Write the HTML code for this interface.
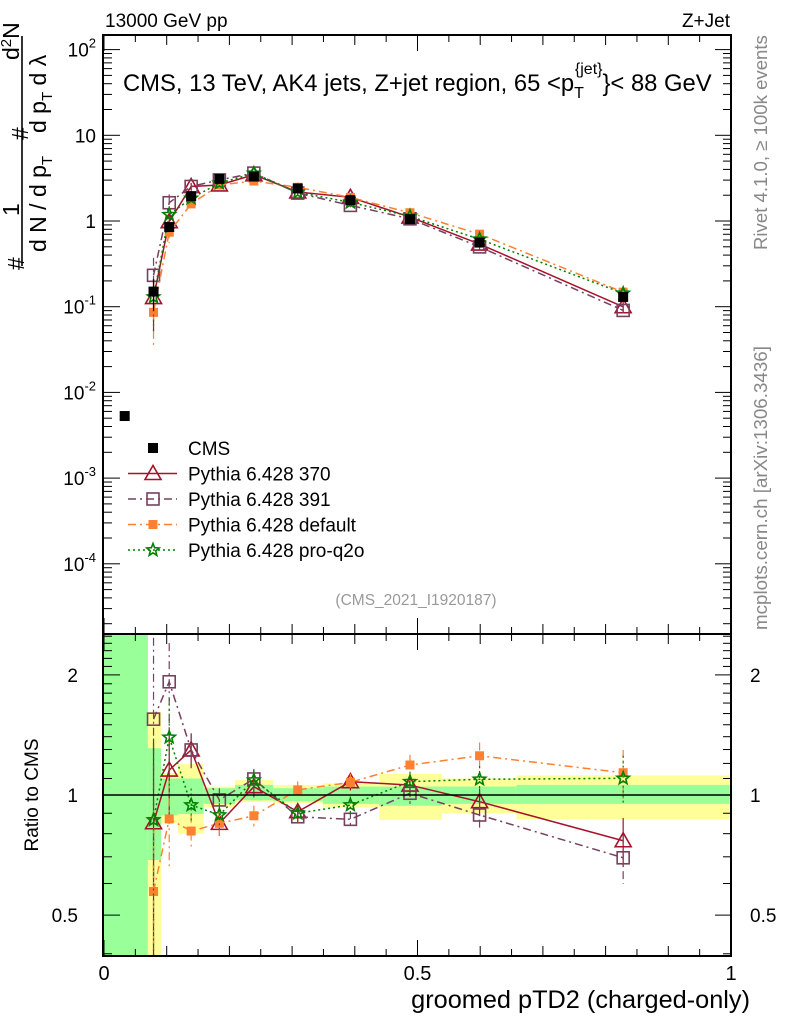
<!DOCTYPE html>
<html><head><meta charset="utf-8">
<style>
html,body{margin:0;padding:0;background:#fff;}
svg{display:block;font-family:"Liberation Sans",sans-serif;}
</style></head>
<body>
<svg id="chart" width="786" height="1024" viewBox="0 0 786 1024" xmlns="http://www.w3.org/2000/svg">
<g id="bands"></g>
<g id="marks"></g>
<g id="axes"></g>
<text x="105" y="27" font-size="19">13000 GeV pp</text>
<text x="730" y="27" font-size="19" text-anchor="end">Z+Jet</text>
<text x="123" y="91" font-size="23.8">CMS, 13 TeV, AK4 jets, Z+jet region, 65 &lt;p<tspan font-size="16" dy="7">T</tspan><tspan font-size="16" dx="-9" dy="-24">{jet}</tspan><tspan dy="17">}&lt; 88 GeV</tspan></text>
<text transform="translate(767,250) rotate(-90)" font-size="18.6" fill="#888">Rivet 4.1.0, ≥ 100k events</text>
<text transform="translate(767,630) rotate(-90)" font-size="18.8" fill="#888">mcplots.cern.ch [arXiv:1306.3436]</text>
<text x="416" y="605" font-size="15.5" fill="#999" text-anchor="middle">(CMS_2021_I1920187)</text>
<text transform="translate(38,795) rotate(-90)" font-size="19" text-anchor="middle">Ratio to CMS</text>
<text x="750" y="1008" font-size="25.3" text-anchor="end">groomed pTD2 (charged-only)</text>
<g font-size="23">
 <text transform="translate(24,270) rotate(-90)">#</text>
 <text transform="translate(19,216) rotate(-90)">1</text>
 <text transform="translate(46,252) rotate(-90)">d N / d p<tspan font-size="15" dy="6">T</tspan></text>
 <text transform="translate(28,140) rotate(-90)">#</text>
 <text transform="translate(19,60) rotate(-90)">d<tspan font-size="15" dy="-8">2</tspan><tspan dy="8">N</tspan></text>
 <text transform="translate(46,133) rotate(-90)">d p<tspan font-size="15" dy="6">T</tspan><tspan dy="-6"> d λ</tspan></text>
 <line x1="22" y1="36" x2="22" y2="266" stroke="#000" stroke-width="1.6"/>
</g>
<g id="legend"></g>
</svg>
<script>
const binX = [0.079,0.104,0.139,0.184,0.239,0.309,0.393,0.488,0.599,0.828];
const cmsVals = [0.15,0.85,1.95,3.1,3.3,2.4,1.75,1.05,0.56,0.13];
const cmsErr = [0.06,0.1,0.15,0.15,0.15,0.1,0.07,0.05,0.04,0.015];
const cmsExtraX = [0.033];
const cmsExtraVal = [0.0053];
const ratio370 = [0.852,1.155,1.297,0.849,1.049,0.908,1.08,1.059,0.962,0.768];
const ratio391 = [1.549,1.922,1.297,0.972,1.097,0.882,0.869,1.01,0.891,0.696];
const ratioDef = [0.573,0.871,0.812,0.849,0.887,1.03,1.076,1.189,1.254,1.137];
const ratioQ2o = [0.866,1.395,0.944,0.891,1.09,0.90,0.944,1.08,1.095,1.101];
const mcRelErr = [0.6,0.25,0.1,0.07,0.06,0.05,0.05,0.06,0.08,0.14];
const bandEdges = [0,0.070,0.091,0.118,0.159,0.209,0.270,0.349,0.439,0.539,0.658,0.998];
const yellowHi = [3,1.617,1.135,1.195,1.05,1.09,1.06,1.07,1.13,1.10,1.12];
const yellowLo = [0.3,0.3,0.85,0.80,0.93,0.96,0.955,0.93,0.866,0.90,0.87];
const greenHi = [3,1.31,1.10,1.10,1.04,1.06,1.04,1.05,1.05,1.05,1.06];
const greenLo = [0.3,0.687,0.89,0.896,0.95,0.97,0.965,0.95,0.94,0.95,0.95];
const mainTicks = ["10^2","10","1","10^-1","10^-2","10^-3","10^-4"];
const ratioTicks = [2,1,0.5];
const xTicks = [0,0.5,1];

const NS="http://www.w3.org/2000/svg";
const X0=104,X1=731,MT=35,MB=634,RB=956;
const sx=v=>X0+(X1-X0)*v;
const sy=v=>221-85.7*Math.log10(v);
const sr=v=>795-399*Math.log10(v);
function el(p,t,a){const e=document.createElementNS(NS,t);for(const k in a)e.setAttribute(k,a[k]);p.appendChild(e);return e;}
const bands=document.getElementById('bands'),marks=document.getElementById('marks'),axes=document.getElementById('axes'),leg=document.getElementById('legend');
const clipR=v=>Math.max(MB,Math.min(RB,v));

for(let i=0;i<yellowHi.length;i++){
 const x=sx(bandEdges[i]),w=sx(bandEdges[i+1])-x;
 const y1=clipR(sr(yellowHi[i])),y2=clipR(sr(yellowLo[i]));
 const r=el(bands,'rect',{x:x,y:y1,width:w,height:y2-y1,fill:'#ffff99'});
 
 
 const g1=clipR(sr(greenHi[i])),g2=clipR(sr(greenLo[i]));
 const g=el(bands,'rect',{x:x,y:g1,width:w,height:g2-g1,fill:'#99ff99'});
 
 
}
el(axes,'line',{x1:X0,y1:795,x2:X1,y2:795,stroke:'#000','stroke-width':1.5});

function marker(p,type,x,y,col){
 if(type==='sq') return el(p,'rect',{x:x-5,y:y-5,width:10,height:10,fill:'#000'});
 if(type==='tri') return el(p,'polygon',{points:`${x},${y-8} ${x-8},${y+6} ${x+8},${y+6}`,fill:'none',stroke:col,'stroke-width':1.6});
 if(type==='osq') return el(p,'rect',{x:x-6,y:y-6,width:12,height:12,fill:'none',stroke:col,'stroke-width':1.6});
 if(type==='fsq') return el(p,'rect',{x:x-4.5,y:y-4.5,width:9,height:9,fill:col});
 if(type==='star'){let pts=[];for(let k=0;k<10;k++){const r=k%2?2.8:6.5,a=-Math.PI/2+k*Math.PI/5;pts.push((x+r*Math.cos(a)).toFixed(1)+','+(y+r*Math.sin(a)).toFixed(1));}
  return el(p,'polygon',{points:pts.join(' '),fill:'none',stroke:col,'stroke-width':1.6});}
}
const series=[
 {name:'Pythia 6.428 370',key:'p370',r:ratio370,col:'#a5132b',m:'tri',dash:''},
 {name:'Pythia 6.428 391',key:'p391',r:ratio391,col:'#77405f',m:'osq',dash:'8,4,2,4'},
 {name:'Pythia 6.428 default',key:'pdefault',r:ratioDef,col:'#ff8030',m:'fsq',dash:'8,4,2,4'},
 {name:'Pythia 6.428 pro-q2o',key:'pq2o',r:ratioQ2o,col:'#008000',m:'star',dash:'2,3'}
];
series.forEach(s=>{
 const gm=el(marks,'g',{});
 
 
 const pm=[],pr=[];
 binX.forEach((v,i)=>{
  const x=sx(v),val=cmsVals[i]*s.r[i],e=mcRelErr[i];
  const ym=sy(val),yr=sr(s.r[i]);
  pm.push(x+','+ym);pr.push(x+','+yr);
  el(gm,'line',{x1:x,y1:sy(val*(1+e)),x2:x,y2:sy(Math.max(val*(1-e),1e-6)),stroke:s.col,'stroke-width':1.2,'stroke-dasharray':s.dash});
  el(gm,'line',{x1:x,y1:clipR(sr(s.r[i]*(1+e))),x2:x,y2:clipR(sr(Math.max(s.r[i]*(1-e),0.01))),stroke:s.col,'stroke-width':1.2,'stroke-dasharray':s.dash});
 });
 el(gm,'polyline',{points:pm.join(' '),fill:'none',stroke:s.col,'stroke-width':1.5,'stroke-dasharray':s.dash});
 el(gm,'polyline',{points:pr.join(' '),fill:'none',stroke:s.col,'stroke-width':1.5,'stroke-dasharray':s.dash});
 binX.forEach((v,i)=>{
  const a=marker(gm,s.m,sx(v),sy(cmsVals[i]*s.r[i]),s.col);
  
  
  const b=marker(gm,s.m,sx(v),sr(s.r[i]),s.col);
  
  
 });
});
const gc=el(marks,'g',{});


binX.forEach((v,i)=>{
 const x=sx(v);
 el(gc,'line',{x1:x,y1:sy(cmsVals[i]+cmsErr[i]),x2:x,y2:sy(cmsVals[i]-cmsErr[i]),stroke:'#000','stroke-width':1.2});
 const m=marker(gc,'sq',x,sy(cmsVals[i]));
 
 
});
cmsExtraX.forEach((v,i)=>{
 const m=marker(gc,'sq',sx(v),sy(cmsExtraVal[i]));
 
 
});

el(axes,'rect',{x:X0-1,y:MT,width:X1-X0+1,height:MB-MT,fill:'none',stroke:'#000','stroke-width':2});
el(axes,'rect',{x:X0-1,y:MB,width:X1-X0+1,height:RB-MB,fill:'none',stroke:'#000','stroke-width':2});
for(let d=-5;d<=2;d++){for(let k=1;k<10;k++){const v=k*Math.pow(10,d),y=sy(v);if(y<MT||y>MB)continue;const L=k===1?16:8;
 el(axes,'line',{x1:X0,y1:y,x2:X0+L,y2:y,stroke:'#000','stroke-width':1});
 el(axes,'line',{x1:X1,y1:y,x2:X1-L,y2:y,stroke:'#000','stroke-width':1});}}
mainTicks.forEach((t,i)=>{
 const p=t.split('^'),v=p.length>1?Math.pow(10,+p[1]):+p[0],y=sy(v);
 const tx=el(axes,'text',{x:96,y:y+7,'font-size':19,'text-anchor':'end'});
 
 
 if(p.length>1){tx.textContent=p[0];const ts=el(tx,'tspan',{'font-size':13,dy:-9});ts.textContent=p[1];}
 else tx.textContent=t;
});
for(let v=0.4;v<=2.51;v+=0.1){const y=sr(v);if(y<MB||y>RB)continue;const maj=Math.abs(v-0.5)<1e-6||Math.abs(v-1)<1e-6||Math.abs(v-2)<1e-6;const L=maj?16:8;
 el(axes,'line',{x1:X0,y1:y,x2:X0+L,y2:y,stroke:'#000'});el(axes,'line',{x1:X1,y1:y,x2:X1-L,y2:y,stroke:'#000'});}
ratioTicks.forEach((v,i)=>{
 const a=el(axes,'text',{x:78,y:sr(v)+7,'font-size':19,'text-anchor':'end'});a.textContent=v;
 
 
 const b=el(axes,'text',{x:750,y:sr(v)+7,'font-size':19});b.textContent=v;
 
 
});
for(let k=0;k<=20;k++){const v=k*0.05,x=sx(v),L=k%10===0?16:(k%2===0?10:7);
 [MT,MB].forEach(y0=>el(axes,'line',{x1:x,y1:y0,x2:x,y2:y0+L,stroke:'#000'}));
 [MB,RB].forEach(y0=>el(axes,'line',{x1:x,y1:y0,x2:x,y2:y0-L,stroke:'#000'}));}
xTicks.forEach((v,i)=>{const t=el(axes,'text',{x:sx(v),y:980,'font-size':20,'text-anchor':'middle'});t.textContent=v;
 
 });

const legRows=[{name:'CMS',m:'sq',col:'#000',dash:null}].concat(series);
legRows.forEach((s,i)=>{
 const y=448+i*25.5;
 const g=el(leg,'g',{});
 
 
 if(s.dash!==null) el(g,'line',{x1:128,y1:y,x2:177,y2:y,stroke:s.col,'stroke-width':1.5,'stroke-dasharray':s.dash});
 marker(g,s.m,153,y,s.col);
 const t=el(g,'text',{x:188,y:y+7,'font-size':19});t.textContent=s.name;
});
</script>
</body></html>
